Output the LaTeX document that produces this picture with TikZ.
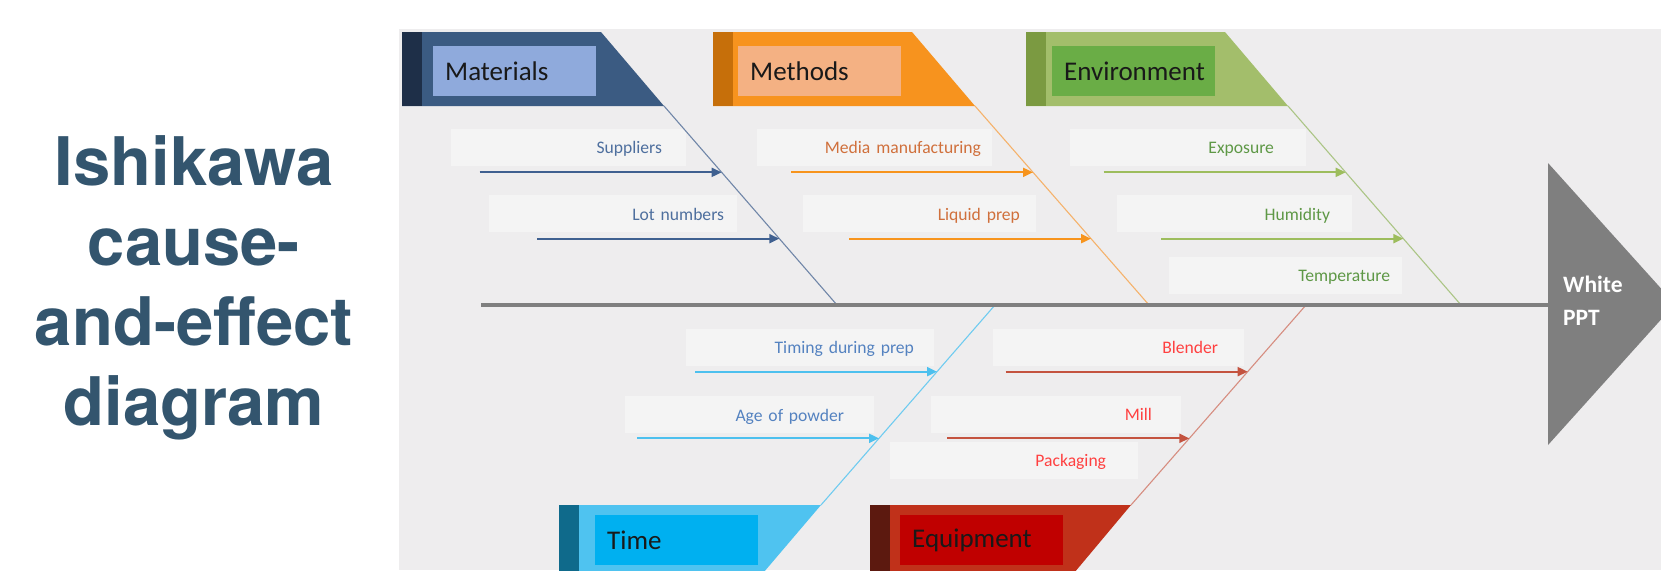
\documentclass[tikz,border=0pt]{standalone}
\usepackage{fontspec}
\setmainfont{Carlito}
\newfontfamily\titlefont{TeX Gyre Heros}
\usetikzlibrary{calc,arrows.meta}

% one set of colours per category
\definecolor{matstrip}{HTML}{1E2F48}
\definecolor{matmain}{HTML}{3B5B82}
\definecolor{matinner}{HTML}{8FAADC}
\definecolor{matbone}{HTML}{7086A8}
\definecolor{matarrow}{HTML}{3F6090}
\definecolor{mattext}{HTML}{4E6F9E}
\definecolor{metstrip}{HTML}{C66F0A}
\definecolor{metmain}{HTML}{F7931E}
\definecolor{metinner}{HTML}{F4B183}
\definecolor{metbone}{HTML}{F5B26B}
\definecolor{metarrow}{HTML}{F7941D}
\definecolor{mettext}{HTML}{D0703C}
\definecolor{envstrip}{HTML}{7B9A41}
\definecolor{envmain}{HTML}{A3BE6B}
\definecolor{envinner}{HTML}{6AAD46}
\definecolor{envbone}{HTML}{ABC585}
\definecolor{envarrow}{HTML}{9DBD5D}
\definecolor{envtext}{HTML}{5E9846}
\definecolor{timstrip}{HTML}{0F6A8B}
\definecolor{timmain}{HTML}{4FC3F0}
\definecolor{timinner}{HTML}{00B0F0}
\definecolor{timbone}{HTML}{6FCBF0}
\definecolor{timarrow}{HTML}{4DC0EE}
\definecolor{timtext}{HTML}{5482C0}
\definecolor{equstrip}{HTML}{5C190F}
\definecolor{equmain}{HTML}{C0311A}
\definecolor{equinner}{HTML}{C00000}
\definecolor{equbone}{HTML}{D68D80}
\definecolor{equarrow}{HTML}{C4533F}
\definecolor{equtext}{HTML}{FF4040}
\definecolor{panel}{HTML}{EEEDEE}
\definecolor{labelbg}{HTML}{F4F4F4}
\definecolor{spinegray}{HTML}{7F7F7F}
\definecolor{titleblue}{HTML}{33556E}

\tikzset{
  headbox/.style={anchor=west, minimum height=50pt, text width=139pt, inner xsep=12pt,
    inner ysep=0pt, align=left, text=black!90, font=\fontsize{27}{30}\selectfont},
  cause/.style 2 args={fill=labelbg, minimum height=37pt, text width=#1, inner xsep=#2,
    inner ysep=0pt, text height=13pt, text depth=0pt, align=right,
    font=\fontsize{17.6}{20}\selectfont},
  bone/.style={line width=1.1pt},
  twig/.style={line width=2pt, -{Triangle[length=10pt,width=9pt]}},
  spine/.style={line width=3.5pt, draw=spinegray},
}

\begin{document}
\begin{tikzpicture}[x=1pt, y=-1pt]
  \useasboundingbox (0,0) rectangle (1661,570);
  \clip (0,0) rectangle (1661,570);
  \fill[panel] (399,29) rectangle (1661,570);

  % title
  \node[align=center, text=titleblue, font=\titlefont\bfseries\fontsize{67}{80}\selectfont]
    (title) at (194,288) {Ishikawa\\cause-\\and-effect\\diagram};

  % category heads, top row
  \fill[matmain] (402,32) -- (601,32) -- (664,106) -- (402,106) -- cycle;
  \fill[matstrip] (402,32) rectangle (422,106);
  \node[headbox, fill=matinner] (materials) at (433,71) {Materials};
  \fill[metmain] (713,32) -- (912,32) -- (975,106) -- (713,106) -- cycle;
  \fill[metstrip] (713,32) rectangle (733,106);
  \node[headbox, fill=metinner] (methods) at (738,71) {Methods};
  \fill[envmain] (1026,32) -- (1225,32) -- (1288,106) -- (1026,106) -- cycle;
  \fill[envstrip] (1026,32) rectangle (1046,106);
  \node[headbox, fill=envinner] (environment) at (1052,71) {Environment};

  % category heads, bottom row
  \fill[timmain] (559,505) -- (821,505) -- (758,579) -- (559,579) -- cycle;
  \fill[timstrip] (559,505) rectangle (579,579);
  \node[headbox, fill=timinner] (time) at (595,540) {Time};
  \fill[equmain] (870,505) -- (1131,505) -- (1069,579) -- (870,579) -- cycle;
  \fill[equstrip] (870,505) rectangle (890,579);
  \node[headbox, fill=equinner] (equipment) at (900,540) {Equipment};

  % causes
  \node[cause={187pt}{24pt}, text=mattext] (suppliers) at (568.5,147) {Suppliers};
  \node[cause={222pt}{13pt}, text=mattext] (lot) at (613,213.5) {Lot numbers};
  \node[cause={213pt}{11pt}, text=mettext] (media) at (874.5,147) {Media manufacturing};
  \node[cause={201pt}{16pt}, text=mettext] (liquid) at (919.5,213.5) {Liquid prep};
  \node[cause={172pt}{32pt}, text=envtext] (exposure) at (1188,147) {Exposure};
  \node[cause={191pt}{22pt}, text=envtext] (humidity) at (1234.5,213.5) {Humidity};
  \node[cause={209pt}{12pt}, text=envtext] (temperature) at (1285.5,275) {Temperature};
  \node[cause={208pt}{20pt}, text=timtext] (timing) at (810,347) {Timing during prep};
  \node[cause={189pt}{30pt}, text=timtext] (age) at (749.5,414.5) {Age of powder};
  \node[cause={199pt}{26pt}, text=equtext] (blender) at (1118.5,347) {Blender};
  \node[cause={192pt}{29pt}, text=equtext] (mill) at (1056,414) {Mill};
  \node[cause={184pt}{32pt}, text=equtext] (packaging) at (1014,460) {Packaging};

  % bones from the heads to the spine
  \coordinate (mat-corner) at (664,106);
  \coordinate (mat-join) at (837,305);
  \coordinate (met-corner) at (975,106);
  \coordinate (met-join) at (1149,305);
  \coordinate (env-corner) at (1288,106);
  \coordinate (env-join) at (1461,305);
  \coordinate (tim-corner) at (821,505);
  \coordinate (tim-join) at (995,305);
  \coordinate (equ-corner) at (1131,505);
  \coordinate (equ-join) at (1306,305);
  \draw[bone, matbone] (mat-corner) -- (mat-join);
  \draw[bone, metbone] (met-corner) -- (met-join);
  \draw[bone, envbone] (env-corner) -- (env-join);
  \draw[bone, timbone] (tim-corner) -- (tim-join);
  \draw[bone, equbone] (equ-corner) -- (equ-join);

  % arrows onto the bones
  \coordinate (sup-tip) at ($(mat-corner)!1/3!(mat-join)$);
  \coordinate (lot-tip) at ($(mat-corner)!2/3!(mat-join)$);
  \coordinate (med-tip) at ($(met-corner)!1/3!(met-join)$);
  \coordinate (liq-tip) at ($(met-corner)!2/3!(met-join)$);
  \coordinate (exp-tip) at ($(env-corner)!1/3!(env-join)$);
  \coordinate (hum-tip) at ($(env-corner)!2/3!(env-join)$);
  \coordinate (tim-tip) at ($(tim-join)!1/3!(tim-corner)$);
  \coordinate (age-tip) at ($(tim-join)!2/3!(tim-corner)$);
  \coordinate (ble-tip) at ($(equ-join)!1/3!(equ-corner)$);
  \coordinate (mil-tip) at ($(equ-join)!2/3!(equ-corner)$);
  \draw[twig, matarrow] ($(sup-tip)+(-242,0)$) -- (sup-tip);
  \draw[twig, matarrow] ($(lot-tip)+(-242,0)$) -- (lot-tip);
  \draw[twig, metarrow] ($(med-tip)+(-242,0)$) -- (med-tip);
  \draw[twig, metarrow] ($(liq-tip)+(-242,0)$) -- (liq-tip);
  \draw[twig, envarrow] ($(exp-tip)+(-242,0)$) -- (exp-tip);
  \draw[twig, envarrow] ($(hum-tip)+(-242,0)$) -- (hum-tip);
  \draw[twig, timarrow] ($(tim-tip)+(-242,0)$) -- (tim-tip);
  \draw[twig, timarrow] ($(age-tip)+(-242,0)$) -- (age-tip);
  \draw[twig, equarrow] ($(ble-tip)+(-242,0)$) -- (ble-tip);
  \draw[twig, equarrow] ($(mil-tip)+(-242,0)$) -- (mil-tip);

  % spine and effect head
  \coordinate (tail) at (481,305);
  \coordinate (head) at (1548,305);
  \draw[spine] (tail) -- (head);
  \fill[spinegray] (1548,163) -- (1675,304) -- (1548,445) -- cycle;
  \node[anchor=west, align=left, inner sep=0pt, text=white,
    font=\bfseries\fontsize{23.5}{33}\selectfont] (effect) at (1563,301) {White\\PPT};
\end{tikzpicture}
\end{document}
